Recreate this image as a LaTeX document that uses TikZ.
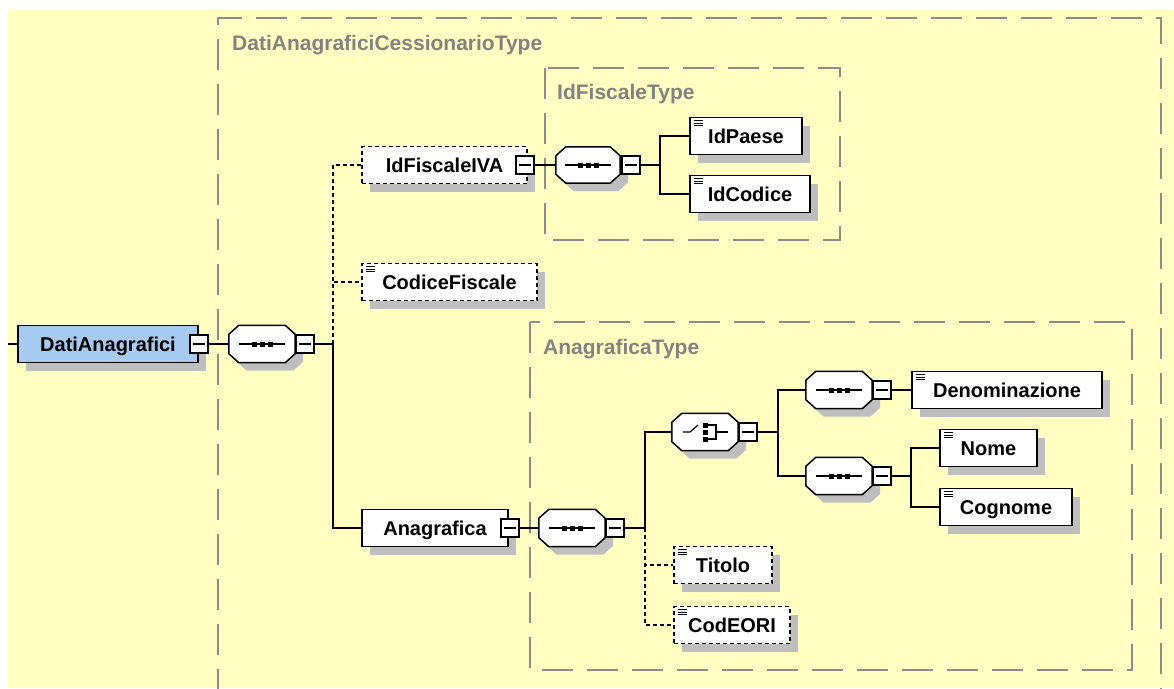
\documentclass[tikz,border=0pt]{standalone}
\usepackage{fontspec}
\setmainfont{Liberation Sans}
\usetikzlibrary{positioning,shadows}
\definecolor{bgyellow}{RGB}{255,255,194}
\definecolor{boxgray}{RGB}{140,140,140}
\definecolor{txtgray}{RGB}{130,130,130}
\definecolor{rootblue}{RGB}{166,202,240}
\definecolor{shadowgray}{RGB}{190,190,190}
\newcommand{\octpath}[1]{([xshift=10pt]#1.north west) -- ([xshift=-10pt]#1.north east) -- ([yshift=-9pt]#1.north east) -- ([yshift=9pt]#1.south east) -- ([xshift=-10pt]#1.south east) -- ([xshift=10pt]#1.south west) -- ([yshift=9pt]#1.south west) -- ([yshift=-9pt]#1.north west) -- cycle}
\newcommand{\octbox}[1]{\fill[shadowgray,transform canvas={shift={(8pt,-8pt)}}] \octpath{#1}; \filldraw[fill=white,line width=1.5pt] \octpath{#1};}
\newcommand{\seqbox}[1]{\octbox{#1}
	\draw[line width=1.2pt] ([xshift=-23pt]#1.center) -- ([xshift=23pt]#1.center);
	\foreach \d in {-8,0,8} \fill ([xshift=\d pt]#1.center) +(-2.5pt,-2.5pt) rectangle +(2.5pt,2.5pt);}
\newcommand{\choicebox}[1]{\octbox{#1}
	\draw[line width=1.2pt] ([xshift=-22pt]#1.center) -- ++(7pt,0pt) -- ++(8pt,7pt);
	\foreach \d in {-7,0,7} \fill ([yshift=\d pt]#1.center) +(-2.5pt,-2.5pt) rectangle +(2.5pt,2.5pt);
	\draw[line width=1.2pt] ([shift={(2pt,7pt)}]#1.center) -- ++(9pt,0pt) -- ++(0pt,-14pt) -- ++(-9pt,0pt) ([xshift=11pt]#1.center) -- ++(12pt,0pt);}
\tikzset{
	gshadow/.style={drop shadow={shadow xshift=8pt,shadow yshift=-8pt,fill=shadowgray,opacity=1}},
	elem/.style={draw,line width=1.6pt,fill=white,gshadow,minimum height=37pt,inner sep=0pt,text height=15pt,text depth=1pt,font=\bfseries\fontsize{20}{24}\selectfont},
	leaf/.style={elem,path picture={\foreach \d in {3,5.5,8} \draw[solid,line width=.8pt] ([xshift=4pt,yshift=-\d pt]path picture bounding box.north west) -- ++(9pt,0pt);}},
	opt/.style={dash pattern=on 4pt off 3pt},
	minbox/.style={draw,line width=1.4pt,fill=white,minimum size=18pt,inner sep=0pt,path picture={\draw[line width=1.2pt] ([xshift=3pt]path picture bounding box.west) -- ([xshift=-3pt]path picture bounding box.east);}},
	comp/.style={minimum width=66pt,minimum height=37pt,inner sep=0pt},
	link/.style={line width=1.4pt},
	optlink/.style={link,dash pattern=on 4pt off 3pt},
	container/.style={draw=boxgray,line width=1.8pt,dash pattern=on 31pt off 14pt},
	grouplabel/.style={anchor=base west,inner sep=0pt,text=txtgray,font=\bfseries\fontsize{21}{24}\selectfont}
}
\begin{document}
\begin{tikzpicture}[x=1pt,y=-1pt]
	\useasboundingbox (0,0) rectangle (1174,688);
	\fill[white] (0,0) rectangle (1174,688);
	\fill[bgyellow] (8,9) rectangle (1174,688);
	\draw[container] (218,700) |- (1161,18) -- (1161,700);
	\node[grouplabel] (lblCess) at (232,50) {DatiAnagraficiCessionarioType};
	\draw[container] (545,68) rectangle (840,240);
	\node[grouplabel] (lblFisc) at (557,99) {IdFiscaleType};
	\draw[container] (530,322) rectangle (1132,670);
	\node[grouplabel] (lblAna) at (543,354) {AnagraficaType};

	\coordinate (in) at (8,344);
	\node[elem,fill=rootblue,minimum width=180pt] (dati) at (108,344) {DatiAnagrafici};
	\node[minbox] (mDati) at (199,344) {};
	\node[comp] (seqA) at (262,344) {};
	\seqbox{seqA}
	\node[minbox] (mSeqA) at (305,344) {};
	\coordinate (jA) at (333,344);

	\node[elem,opt,minimum width=165pt] (iva) at (444.5,165) {IdFiscaleIVA};
	\node[minbox] (mIva) at (525,165) {};
	\node[comp,minimum width=64pt,minimum height=36pt] (seqB) at (588,165) {};
	\seqbox{seqB}
	\node[minbox] (mSeqB) at (631,165) {};
	\coordinate (jB) at (660,165);
	\node[leaf,minimum width=112pt] (paese) at (746,136) {IdPaese};
	\node[leaf,minimum width=120pt] (codice) at (750,194) {IdCodice};

	\node[leaf,opt,minimum width=175pt] (cf) at (449.5,282) {CodiceFiscale};

	\node[elem,minimum width=146pt] (ana) at (435,528) {Anagrafica};
	\node[minbox] (mAna) at (510,528) {};
	\node[comp] (seqC) at (572,528) {};
	\seqbox{seqC}
	\node[minbox] (mSeqC) at (615,528) {};
	\coordinate (jC) at (645,528);
	\node[comp] (ch) at (705,432) {};
	\choicebox{ch}
	\node[minbox] (mCh) at (748,432) {};
	\coordinate (jD) at (778,432);
	\node[comp] (seqD) at (839,390) {};
	\seqbox{seqD}
	\node[minbox] (mSeqD) at (882,390) {};
	\node[leaf,minimum width=190pt] (den) at (1007,390) {Denominazione};
	\node[comp] (seqE) at (839,476) {};
	\seqbox{seqE}
	\node[minbox] (mSeqE) at (882,476) {};
	\coordinate (jE) at (911,476);
	\node[leaf,minimum width=97pt] (nome) at (988.5,448) {Nome};
	\node[leaf,minimum width=132pt] (cog) at (1006,507) {Cognome};
	\node[leaf,opt,minimum width=98pt] (tit) at (723,565) {Titolo};
	\node[leaf,opt,minimum width=116pt] (eori) at (732,625) {CodEORI};

	\draw[link] (in) -- (dati) (mDati) -- (seqA) (mSeqA) -- (jA) |- (ana);
	\draw[optlink] (jA) |- (iva) (jA) |- (cf);
	\draw[link] (mIva) -- (seqB) (mSeqB) -- (jB) (jB) |- (paese) (jB) |- (codice);
	\draw[link] (mAna) -- (seqC) (mSeqC) -- (jC) |- (ch);
	\draw[optlink] (jC) |- (tit) (jC) |- (eori);
	\draw[link] (mCh) -- (jD) (jD) |- (seqD) (jD) |- (seqE);
	\draw[link] (mSeqD) -- (den) (mSeqE) -- (jE) (jE) |- (nome) (jE) |- (cog);
\end{tikzpicture}
\end{document}
